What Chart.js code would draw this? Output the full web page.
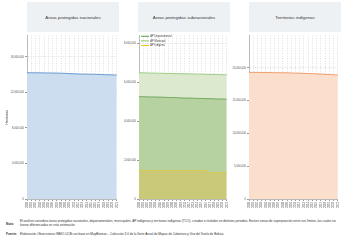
<!DOCTYPE html>
<html>
<head>
<meta charset="utf-8">
<script src="https://cdn.jsdelivr.net/npm/chart.js@4"></script>
<style>
  body { margin:0; background:#fff; width:350px; height:240px; overflow:hidden; position:relative;
         font-family:'Liberation Sans Narrow','Liberation Sans',Arial,sans-serif; }
  .hdr { position:absolute; top:2px; height:30px; background:#edf1f4; color:#333;
         font-size:4.4px; display:flex; align-items:center; justify-content:center; }
  .box { position:absolute; }
  .note { position:absolute; font-size:3.1px; color:#333; line-height:4.4px; }
  .lbl { position:absolute; font-size:3.1px; font-weight:bold; color:#333; }
</style>
</head>
<body>
<div class="hdr" style="left:27px;width:92px">Áreas protegidas nacionales</div>
<div class="hdr" style="left:138px;width:92px">Áreas protegidas subnacionales</div>
<div class="hdr" style="left:249px;width:92px">Territorios indígenas</div>

<div class="box" style="left:0px;top:33px"><canvas id="c1" width="121" height="184"></canvas></div>
<div class="box" style="left:113px;top:33px"><canvas id="c2" width="118" height="184"></canvas></div>
<div class="box" style="left:224px;top:33px"><canvas id="c3" width="118" height="184"></canvas></div>

<div class="lbl" style="left:6px;top:222px">Nota:</div>
<div class="note" style="left:20px;top:219px;width:325px">El análisis considera áreas protegidas nacionales, departamentales, municipales, AP indígenas y territorios indígenas (TCO), creados o titulados en distintos periodos. Existen zonas de superposición entre sus límites, las cuales no fueron diferenciadas en esta estimación.</div>
<div class="lbl" style="left:6px;top:232px">Fuente:</div>
<div class="note" style="left:20px;top:232px;width:325px">Elaboración Observatorio INBIO-UCB con base en MapBiomas – Colección 3.0 de la Serie Anual de Mapas de Cobertura y Uso del Suelo de Bolivia.</div>

<script>
// data
const years = ['2000','2001','2002','2003','2004','2005','2006','2007','2008','2009','2010',
               '2011','2012','2013','2014','2015','2016','2017','2018','2019','2020','2021'];
const apNacional = [14220000,14220000,14210000,14210000,14200000,14200000,14190000,14180000,14170000,14150000,14120000,
                    14100000,14080000,14070000,14060000,14050000,14040000,14020000,14000000,13990000,13980000,13960000];
const apDepartamental = [5260000,5260000,5250000,5250000,5240000,5240000,5230000,5220000,5220000,5210000,5200000,
                         5190000,5190000,5180000,5170000,5170000,5160000,5160000,5150000,5140000,5140000,5130000];
const apMunicipal = [6490000,6490000,6480000,6480000,6470000,6470000,6460000,6460000,6450000,6450000,6440000,
                     6440000,6430000,6430000,6420000,6420000,6410000,6410000,6400000,6400000,6390000,6390000];
const apIndigena = [1490000,1490000,1490000,1490000,1490000,1490000,1490000,1490000,1490000,1490000,1490000,
                    1490000,1490000,1490000,1490000,1490000,1490000,1390000,1390000,1390000,1390000,1390000];
const tcoTerritorios = [19300000,19300000,19290000,19280000,19280000,19270000,19260000,19250000,19240000,19230000,19210000,
                        19190000,19170000,19150000,19120000,19100000,19070000,19040000,19000000,18970000,18930000,18900000];

// y tick values per panel
const ticksNacional = [0, 4000000, 8000000, 12000000, 16000000];
const ticksSubnacional = [0, 2000000, 4000000, 6000000, 8000000];
const ticksTerritorios = [0, 5000000, 10000000, 15000000, 20000000];

const tickFont = {family:"'Liberation Sans Narrow','Liberation Sans',Arial", size:2.7};

function makeScales(max, yTicks, axisW, title){
  return {
    x: {
      offset:false,
      grid:{color:'#dedede', tickLength:2, tickColor:'#999'},
      border:{dash:[1,1.5], color:'#bbb'},
      ticks:{font:tickFont, color:'#555', maxRotation:90, minRotation:90, autoSkip:false, padding:1},
      afterFit: s => { s.height = 18; }
    },
    y: {
      min:0, max:max,
      grid:{color:'#dedede', tickLength:2, tickColor:'#999'},
      border:{dash:[1,1.5], color:'#bbb', width:1},
      ticks:{font:tickFont, color:'#555', padding:1, autoSkip:false},
      title:{display:!!title, text:title || '', font:{family:tickFont.family, size:3.2}, color:'#333', padding:{top:5, bottom:2}},
      afterBuildTicks: s => { s.ticks = yTicks.map(v => ({value:v})); },
      afterFit: s => { s.width = axisW; }
    }
  };
}

function makeChart(id, datasets, max, yTicks, axisW, title, legend){
  return new Chart(document.getElementById(id), {
    type:'line',
    data:{labels:years, datasets:datasets},
    options:{
      responsive:false, animation:false, devicePixelRatio:1, locale:'en-US',
      layout:{padding:{top:2, right:2, left:0, bottom:0}},
      elements:{point:{radius:0}, line:{tension:0, borderWidth:0.8}},
      plugins:{
        legend: legend ? {
          display:true, position:'chartArea', align:'start',
          labels:{usePointStyle:true, pointStyle:'line', pointStyleWidth:8, boxHeight:2,
                  font:{family:tickFont.family, size:2.6}, color:'#444', padding:2}
        } : {display:false},
        tooltip:{enabled:false}
      },
      scales: makeScales(max, yTicks, axisW, title)
    }
  });
}

makeChart('c1', [
  {label:'AP Nacional', data:apNacional, borderColor:'#4a86c6', backgroundColor:'#cbddee', fill:'origin'}
], 18400000, ticksNacional, 27, 'Hectáreas', false);

makeChart('c2', [
  {label:'AP Departamental', data:apDepartamental, borderColor:'#5e9a48', backgroundColor:'#b6d2a0', fill:2},
  {label:'AP Municipal', data:apMunicipal, borderColor:'#8cc46c', backgroundColor:'#dce9cf', fill:0},
  {label:'AP Indígena', data:apIndigena, borderColor:'#f5c518', backgroundColor:'#c9c978', fill:'origin'}
], 8400000, ticksSubnacional, 26, '', true);

makeChart('c3', [
  {label:'Territorios indígenas', data:tcoTerritorios, borderColor:'#f08a4c', backgroundColor:'#fbdecb', fill:'origin'}
], 24900000, ticksTerritorios, 25, '', false);
</script>
</body>
</html>
